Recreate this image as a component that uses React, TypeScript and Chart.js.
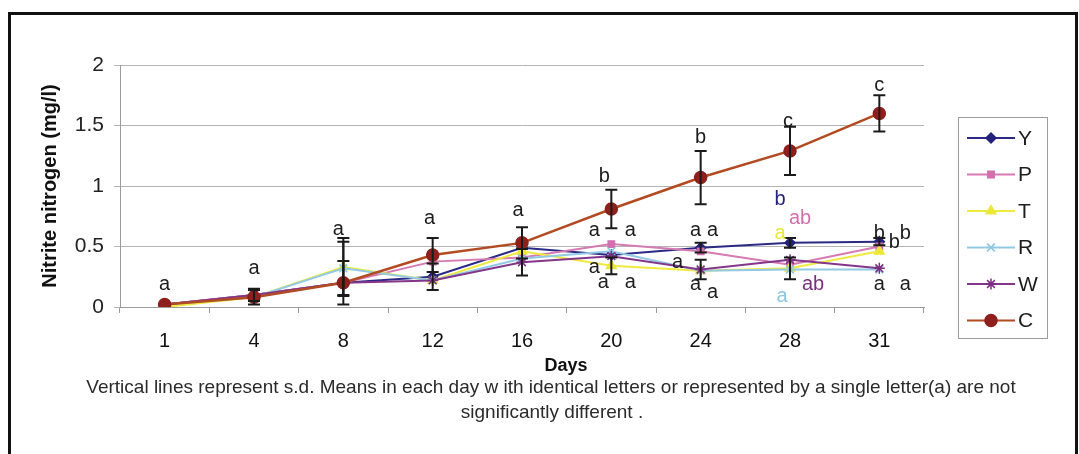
import React, { useEffect, useRef } from "react";
import { Chart, registerables } from "chart.js";
import { drawPoint } from "chart.js/helpers";

Chart.register(...registerables);

// ---------- data ----------
const days = ["1", "4", "8", "12", "16", "20", "24", "28", "31"];
const yTicks = [0, 0.5, 1, 1.5, 2];

const seriesNames = ["Y", "P", "T", "R", "W", "C"];

const valuesY = [0.02, 0.1, 0.2, 0.25, 0.49, 0.43, 0.49, 0.53, 0.54];
const valuesP = [0.02, 0.1, 0.2, 0.375, 0.41, 0.52, 0.46, 0.35, 0.5];
const valuesT = [0.0, 0.08, 0.33, 0.22, 0.46, 0.34, 0.3, 0.32, 0.46];
const valuesR = [0.02, 0.08, 0.32, 0.22, 0.4, 0.46, 0.3, 0.31, 0.31];
const valuesW = [0.02, 0.1, 0.2, 0.22, 0.37, 0.42, 0.31, 0.39, 0.32];
const valuesC = [0.02, 0.08, 0.2, 0.43, 0.53, 0.81, 1.07, 1.29, 1.6];

// standard deviations (null = no visible bar)
const sdY = [null, 0.05, null, 0.11, null, null, 0.04, 0.04, 0.03];
const sdP = [null, null, null, null, null, null, null, null, null];
const sdT = [null, null, 0.24, null, null, 0.07, null, 0.09, null];
const sdR = [null, null, 0.22, null, null, null, null, null, null];
const sdW = [null, null, null, null, 0.11, null, 0.08, null, null];
const sdC = [null, 0.06, 0.18, 0.14, 0.13, 0.16, 0.22, 0.2, 0.15];

// significance letters: day index, value position, text, colour key, pixel nudge
const letterDay = [0, 1, 2, 3, 4, 5, 5, 5, 5, 5, 5, 6, 6, 6, 6, 6, 6, 7, 7, 7, 7, 7, 7, 8, 8, 8, 8, 8, 8];
const letterVal = [0.19, 0.32, 0.64, 0.73, 0.8, 1.08, 0.63, 0.63, 0.33, 0.2, 0.2, 1.4, 0.63, 0.63, 0.37, 0.19, 0.12, 1.53, 0.89, 0.73, 0.61, 0.19, 0.09, 1.83, 0.61, 0.53, 0.61, 0.19, 0.19];
const letterText = ["a", "a", "a", "a", "a", "b", "a", "a", "a", "a", "a", "b", "a", "a", "a", "a", "a", "c", "b", "ab", "a", "ab", "a", "c", "b", "b", "b", "a", "a"];
const letterColor = ["k", "k", "k", "k", "k", "k", "k", "k", "k", "k", "k", "k", "k", "k", "k", "k", "k", "k", "Y", "P", "T", "W", "R", "k", "k", "k", "k", "k", "k"];
const letterNudge = [0, 0, -5, -3, -4, -7, -17, 19, -17, -8, 19, 0, -5, 12, -23, -5, 12, -2, -10, 10, -10, 23, -8, 0, 0, 15, 26, 0, 26];

const xTitle = "Days";
const yTitle = "Nitrite nitrogen (mg/l)";
const captionLines = [
  "Vertical lines represent s.d. Means in each day w ith identical letters or represented by a single letter(a) are not",
  "significantly different .",
];

// ---------- styles ----------
const colors: Record<string, string> = {
  Y: "#23237e",
  P: "#d46fae",
  T: "#ece83a",
  R: "#8cc6e2",
  W: "#7b2f82",
  C: "#8e1f1c",
  k: "#1c1c1c",
};
const lineColors: Record<string, string> = {
  Y: "#2a2a86",
  P: "#d67ab2",
  T: "#efeb3e",
  R: "#92c9e4",
  W: "#84378a",
  C: "#b24a22",
};
const pointStyles: Record<string, any> = {
  Y: "rectRot",
  P: "rect",
  T: "triangle",
  R: "crossRot",
  W: "star",
  C: "circle",
};
const pointRadius: Record<string, number> = { Y: 5, P: 4.5, T: 5.5, R: 5.5, W: 5.5, C: 6 };

const allValues = [valuesY, valuesP, valuesT, valuesR, valuesW, valuesC];
const allSd = [sdY, sdP, sdT, sdR, sdW, sdC];

const FONT = "Arial, 'Liberation Sans', sans-serif";

const framePlugin = {
  id: "frame",
  afterDraw(chart: any) {
    const ctx = chart.ctx;
    ctx.save();
    ctx.strokeStyle = "#111";
    ctx.lineWidth = 3;
    ctx.beginPath();
    ctx.moveTo(9.5, 460);
    ctx.lineTo(9.5, 13.5);
    ctx.lineTo(1076.5, 13.5);
    ctx.lineTo(1076.5, 460);
    ctx.stroke();
    ctx.restore();
  },
};

const errorBarPlugin = {
  id: "errorBars",
  afterDatasetsDraw(chart: any) {
    const ctx = chart.ctx;
    const xs = chart.scales.x;
    const ys = chart.scales.y;
    ctx.save();
    ctx.strokeStyle = "#1a1a1a";
    ctx.lineWidth = 2;
    allSd.forEach((sd, si) => {
      sd.forEach((e, i) => {
        if (e == null) return;
        const v = allValues[si][i];
        const x = xs.getPixelForValue(i);
        const y1 = ys.getPixelForValue(v + e);
        const y0 = ys.getPixelForValue(Math.max(0, v - e));
        ctx.beginPath();
        ctx.moveTo(x, y0);
        ctx.lineTo(x, y1);
        ctx.moveTo(x - 6, y1);
        ctx.lineTo(x + 6, y1);
        ctx.moveTo(x - 6, y0);
        ctx.lineTo(x + 6, y0);
        ctx.stroke();
      });
    });
    ctx.restore();
  },
};

const lettersPlugin = {
  id: "letters",
  afterDatasetsDraw(chart: any) {
    const ctx = chart.ctx;
    const xs = chart.scales.x;
    const ys = chart.scales.y;
    ctx.save();
    ctx.font = `20px ${FONT}`;
    ctx.textAlign = "center";
    ctx.textBaseline = "middle";
    letterText.forEach((t, i) => {
      ctx.fillStyle = colors[letterColor[i]];
      const x = xs.getPixelForValue(letterDay[i]) + letterNudge[i];
      const y = ys.getPixelForValue(letterVal[i]);
      ctx.fillText(t, x, y);
    });
    ctx.restore();
  },
};

const legendPlugin = {
  id: "legendBox",
  afterDraw(chart: any) {
    const ctx = chart.ctx;
    const left = chart.chartArea.right + 34;
    const top = 117;
    ctx.save();
    ctx.strokeStyle = "#9c9c9c";
    ctx.lineWidth = 1;
    ctx.strokeRect(left + 0.5, top + 0.5, 89, 221);
    ctx.font = `21px ${FONT}`;
    ctx.textBaseline = "middle";
    ctx.textAlign = "left";
    seriesNames.forEach((n, i) => {
      const y = top + 21 + i * 36.5;
      ctx.strokeStyle = lineColors[n];
      ctx.lineWidth = 2;
      ctx.beginPath();
      ctx.moveTo(left + 9, y);
      ctx.lineTo(left + 57, y);
      ctx.stroke();
      ctx.fillStyle = colors[n];
      ctx.strokeStyle = colors[n];
      ctx.lineWidth = 1.5;
      drawPoint(ctx, { pointStyle: pointStyles[n], radius: pointRadius[n], rotation: 0, borderWidth: 1.5 } as any, left + 33, y);
      ctx.fillStyle = "#1c1c1c";
      ctx.fillText(n, left + 60, y + 1);
    });
    ctx.restore();
  },
};

const textPlugin = {
  id: "texts",
  afterDraw(chart: any) {
    const ctx = chart.ctx;
    const ca = chart.chartArea;
    ctx.save();
    ctx.textAlign = "center";
    ctx.textBaseline = "alphabetic";
    ctx.fillStyle = "#111";
    ctx.font = `bold 18px ${FONT}`;
    ctx.fillText(xTitle, (ca.left + ca.right) / 2 + 44, 371);
    ctx.fillStyle = "#2a2a2a";
    ctx.font = `19px ${FONT}`;
    ctx.fillText(captionLines[0], 551, 393);
    ctx.fillText(captionLines[1], 552, 418);
    ctx.restore();
  },
};

export default function App() {
  const ref = useRef<HTMLCanvasElement | null>(null);

  useEffect(() => {
    if (!ref.current) return;
    const datasets = seriesNames.map((n, si) => ({
      label: n,
      data: allValues[si],
      borderColor: lineColors[n],
      backgroundColor: colors[n],
      pointBackgroundColor: colors[n],
      pointBorderColor: colors[n],
      pointStyle: pointStyles[n],
      pointRadius: pointRadius[n],
      pointBorderWidth: 1.5,
      borderWidth: n === "C" ? 2.5 : 2,
      tension: 0,
      order: seriesNames.length - 1 - si,
    }));
    const chart = new Chart(ref.current, {
      type: "line",
      data: { labels: days, datasets },
      options: {
        responsive: false,
        animation: false,
        events: [],
        layout: { padding: { left: 0, right: 155, top: 65, bottom: 0 } },
        plugins: {
          legend: { display: false },
          tooltip: { enabled: false },
          title: { display: false },
        },
        scales: {
          x: {
            type: "category",
            offset: true,
            grid: {
              display: true,
              offset: true,
              drawOnChartArea: false,
              drawTicks: true,
              tickLength: 6,
              color: "#9a9a9a",
            },
            border: { color: "#9a9a9a", width: 1 },
            ticks: {
              font: { family: FONT, size: 20 },
              color: "#111",
              padding: 16,
              maxRotation: 0,
            },
            afterFit: (s: any) => {
              s.height = 147;
            },
          },
          y: {
            min: 0,
            max: 2,
            afterBuildTicks: (s: any) => {
              s.ticks = yTicks.map((v) => ({ value: v }));
            },
            ticks: {
              font: { family: FONT, size: 21 },
              color: "#222",
              padding: 10,
              callback: (v: any) => String(v),
            },
            grid: {
              color: "#b4b4b4",
              tickLength: 6,
              drawTicks: true,
            },
            border: { color: "#9a9a9a", width: 1 },
            title: {
              display: true,
              text: yTitle,
              font: { family: FONT, size: 20, weight: "bold" },
              color: "#111",
              padding: { top: 38, bottom: 0 },
            },
            afterFit: (s: any) => {
              s.width = 120;
            },
          },
        },
      },
      plugins: [errorBarPlugin, lettersPlugin, legendPlugin, textPlugin, framePlugin],
    } as any);
    return () => chart.destroy();
  }, []);

  return (
    <div style={{ position: "fixed", left: 0, top: 0, width: 1079, height: 454, background: "#fff" }}>
      <canvas ref={ref} width={1079} height={454} />
    </div>
  );
}
